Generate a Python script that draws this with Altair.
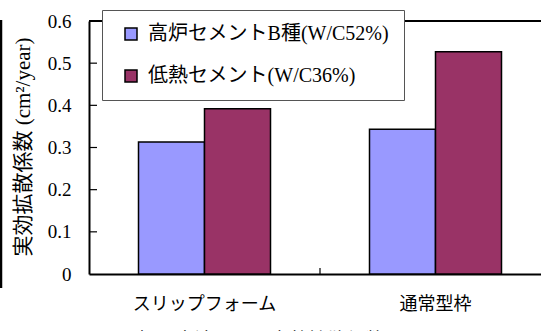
import altair as alt
import pandas as pd

# --- data -------------------------------------------------------------
categories = ["スリップフォーム", "通常型枠"]
series = ["高炉セメントB種(W/C52%)", "低熱セメント(W/C36%)"]
blast_furnace_b = [0.313, 0.343]
low_heat = [0.392, 0.527]
colors = ["#9999FF", "#993366"]
y_ticks = [0, 0.1, 0.2, 0.3, 0.4, 0.5, 0.6]
inner_ticks = [0.1, 0.2, 0.3, 0.4, 0.5]
y_title = "実効拡散係数 (cm²/year)"
caption = "図－7　打設方法による実効拡散係数"

rows = []
for i, cat in enumerate(categories):
    rows.append({"工法": cat, "種類": series[0], "値": blast_furnace_b[i]})
    rows.append({"工法": cat, "種類": series[1], "値": low_heat[i]})
df = pd.DataFrame(rows)

# --- layout -----------------------------------------------------------
W, H = 452, 253
BAND_RANGE = 462          # two 231px bands; the second one runs past the right edge
SERIF_JP = "Liberation Serif, Noto Sans CJK JP"
GOTHIC = "Noto Sans CJK JP"

x_scale = alt.Scale(domain=categories, range=[0, BAND_RANGE], paddingInner=0, paddingOuter=0)
y_scale = alt.Scale(domain=[0, 0.6], nice=False, zero=True)

x_axis = alt.Axis(title=None, ticks=False, labelAngle=0, labelFont=GOTHIC,
                  labelFontSize=18, labelColor="black", labelPadding=21,
                  domainColor="black", domainWidth=2)
y_axis = alt.Axis(values=y_ticks, ticks=False, grid=False,
                  labelExpr="datum.value == 0 ? '0' : format(datum.value, '.1f')",
                  labelFont="Liberation Serif", labelFontSize=19, labelColor="black",
                  labelPadding=18, domainColor="black", domainWidth=2,
                  title=y_title, titleFont=SERIF_JP, titleFontSize=21,
                  titleFontWeight="normal", titleColor="black",
                  titleAngle=270, titleAlign="center", titleBaseline="middle",
                  titleX=-66, titleY=H / 2 - 1)

bars = alt.Chart(df).mark_bar(stroke="black", strokeWidth=1.5).encode(
    x=alt.X("工法:N", sort=categories, scale=x_scale, axis=x_axis),
    xOffset=alt.XOffset("種類:N", sort=series,
                        scale=alt.Scale(domain=series, paddingInner=0, paddingOuter=0.75)),
    y=alt.Y("値:Q", scale=y_scale, axis=y_axis),
    color=alt.Color("種類:N", sort=series,
                    scale=alt.Scale(domain=series, range=colors),
                    legend=alt.Legend(title=None, orient="none", legendX=13, legendY=-11,
                                      fillColor="white", strokeColor="#555555",
                                      padding=14, symbolType="square", symbolSize=144,
                                      symbolStrokeColor="black", symbolStrokeWidth=1.5,
                                      symbolOffset=5, labelOffset=7,
                                      labelFont=SERIF_JP, labelFontSize=20,
                                      labelColor="black", labelLimit=400, rowPadding=22)),
)

# inward ticks on the value axis
y_tick_marks = alt.Chart(pd.DataFrame({"値": inner_ticks})).mark_rule(
    color="black", strokeWidth=1.2
).encode(
    y=alt.Y("値:Q", scale=y_scale, axis=y_axis),
    x=alt.value(0), x2=alt.value(8),
)

# inward tick between the two groups
mid_tick = alt.Chart(pd.DataFrame({"工法": [categories[1]]})).mark_rule(
    color="black", strokeWidth=1.2
).encode(
    x=alt.X("工法:N", sort=categories, scale=x_scale, bandPosition=0, axis=x_axis),
    y=alt.value(H), y2=alt.value(H - 6),
)

# top frame line of the plot
top_line = alt.Chart(pd.DataFrame({"a": [0]})).mark_rule(
    color="black", strokeWidth=2
).encode(x=alt.value(0), x2=alt.value(W), y=alt.value(0))

# outer frame line at the far left
left_frame = alt.Chart(pd.DataFrame({"a": [0]})).mark_rule(
    color="black", strokeWidth=2.5
).encode(x=alt.value(-88), y=alt.value(-1), y2=alt.value(267))

caption_text = alt.Chart(pd.DataFrame({"t": [caption]})).mark_text(
    align="left", baseline="top", font=GOTHIC, fontSize=19, color="black"
).encode(text="t:N", x=alt.value(-19), y=alt.value(311))

chart = alt.layer(
    bars, y_tick_marks, mid_tick, top_line, left_frame, caption_text
).properties(
    width=W, height=H,
    autosize=alt.AutoSizeParams(type="none"),
    padding={"left": 89, "top": 21, "right": 0, "bottom": 57},
    background="white",
).configure_view(stroke=None)

chart.save("out.html", embed_options={"renderer": "svg", "actions": False})
